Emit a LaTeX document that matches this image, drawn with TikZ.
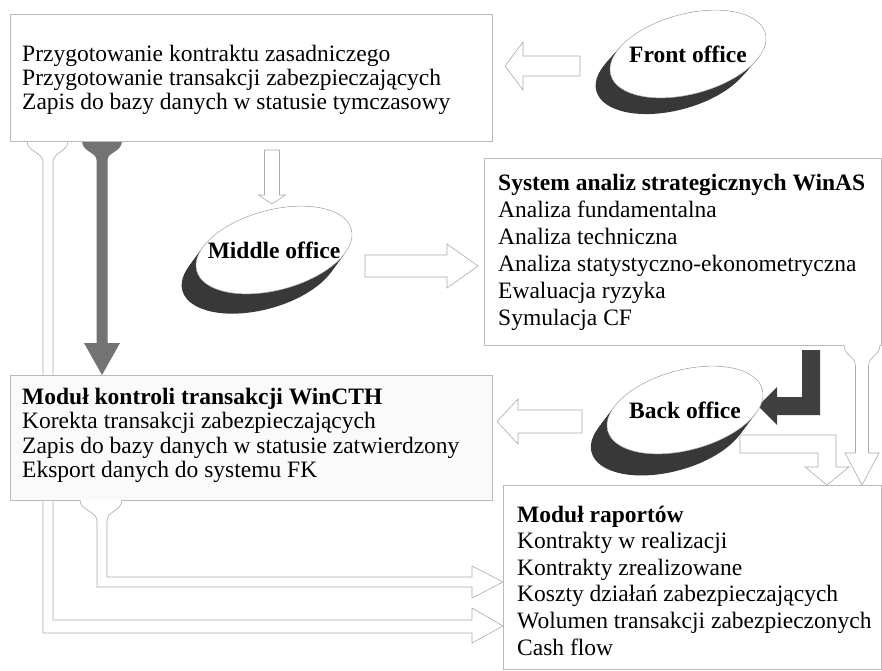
\documentclass[tikz,border=0pt]{standalone}
\usepackage{fontspec}
\setmainfont{Liberation Serif}
\usetikzlibrary{calc}

\tikzset{
  box/.style={draw=gray!55, fill=white, line width=0.6pt},
  hollow/.style={draw=gray!65, fill=white, line width=0.6pt},
  txt/.style={inner sep=0, anchor=base west, font=\fontsize{23.5}{24}\selectfont},
  head/.style={txt, font=\fontsize{23.5}{24}\selectfont\bfseries},
}

% name, centre of the top face, depth shift, label
\newcommand{\officedisk}[4]{%
  \foreach \s in {0,0.1,...,1}
    \fill[black!78, shift={($#2+\s*(#3)$)}, rotate=15] (0,0) ellipse [x radius=80, y radius=40];
  \draw[gray!60, fill=white, line width=0.5pt, shift={#2}, rotate=15] (0,0) ellipse [x radius=80, y radius=40];
  \node[head, anchor=center] (#1) at #2 {#4};
}

\begin{document}
\begin{tikzpicture}[x=1pt, y=-1pt]
  \useasboundingbox[fill=white] (0,0) rectangle (882,670);

  % arrows leaving the top box
  \draw[hollow] (27,141) .. controls (27,152) and (43,152) .. (43,162) -- (43,633) -- (472,633) -- (472,643) -- (503,626) -- (472,608) -- (472,620) -- (53,620) -- (53,162) .. controls (53,152) and (68,152) .. (68,141);
  \fill[black!55] (82,141) .. controls (82,152) and (96.5,152) .. (96.5,160) -- (96.5,343) -- (84,343) -- (102,375) -- (120,343) -- (107.5,343) -- (107.5,160) .. controls (107.5,152) and (122,152) .. (122,141) -- cycle;
  \draw[hollow] (264.5,150) -- (264.5,195) -- (258.5,195) -- (272,204) -- (285.5,195) -- (279.5,195) -- (279.5,150) -- cycle;

  % boxes
  \draw[box] (10,14) rectangle (492,141);
  \draw[box] (484,158) rectangle (881,345);
  \draw[box, fill=gray!4] (10,375) rectangle (492,500);

  \foreach \t [count=\i] in {Przygotowanie kontraktu zasadniczego, Przygotowanie transakcji zabezpieczających, Zapis do bazy danych w statusie tymczasowy}
    \node[txt] (prep\i) at (22,{37+24*\i}) {\t};

  \node[head] (winas) at (498,190) {System analiz strategicznych WinAS};
  \foreach \t [count=\i] in {Analiza fundamentalna, Analiza techniczna, Analiza statystyczno-ekonometryczna, Ewaluacja ryzyka, Symulacja CF}
    \node[txt] (winas\i) at (498,{190+27*\i}) {\t};

  \node[head] (wincth) at (22,404) {Moduł kontroli transakcji WinCTH};
  \foreach \t [count=\i] in {Korekta transakcji zabezpieczających, Zapis do bazy danych w statusie zatwierdzony, Eksport danych do systemu FK}
    \node[txt] (wincth\i) at (22,{404+24.5*\i}) {\t};

  % arrows round the offices
  \draw[hollow] (580,56) -- (523,56) -- (523,42) -- (505,66) -- (523,90) -- (523,76) -- (580,76) -- cycle;
  \draw[hollow] (365,255) -- (447,255) -- (447,244) -- (478,266) -- (447,288) -- (447,277) -- (365,277) -- cycle;
  \draw[hollow] (582,410) -- (518,410) -- (518,399) -- (497,421.5) -- (518,444) -- (518,433) -- (582,433) -- cycle;
  \fill[black!75] (820,350) -- (820,415) -- (777,415) -- (777,425) -- (758,406) -- (777,387) -- (777,397) -- (802,397) -- (802,350) -- cycle;
  \draw[hollow] (740,435) -- (836,435) -- (836,467) -- (849,467) -- (827,485) -- (805,467) -- (818,467) -- (818,453) -- (740,453) -- cycle;
  \draw[hollow] (844,345) .. controls (844,356) and (855.5,356) .. (855.5,366) -- (855.5,453) -- (845,453) -- (862,485) -- (879,453) -- (868.5,453) -- (868.5,366) .. controls (868.5,356) and (880,356) .. (880,345);

  \officedisk{front}{(688,54)}{-16,18}{Front office}
  \officedisk{middle}{(274,250)}{-16,22}{Middle office}
  \officedisk{back}{(685,410)}{-18,24}{Back office}

  % arrow from the control module to the reports
  \draw[hollow] (80,500) .. controls (80,511) and (97,511) .. (97,521) -- (97,587) -- (472,587) -- (472,598) -- (503,582) -- (472,566) -- (472,577) -- (107,577) -- (107,521) .. controls (107,511) and (122,511) .. (122,500);

  \draw[box] (503,485) rectangle (881,669);
  \node[head] (raport) at (517,522) {Moduł raportów};
  \foreach \t [count=\i] in {Kontrakty w realizacji, Kontrakty zrealizowane, Koszty działań zabezpieczających, Wolumen transakcji zabezpieczonych, Cash flow}
    \node[txt] (raport\i) at (517,{522+26.6*\i}) {\t};
\end{tikzpicture}
\end{document}
